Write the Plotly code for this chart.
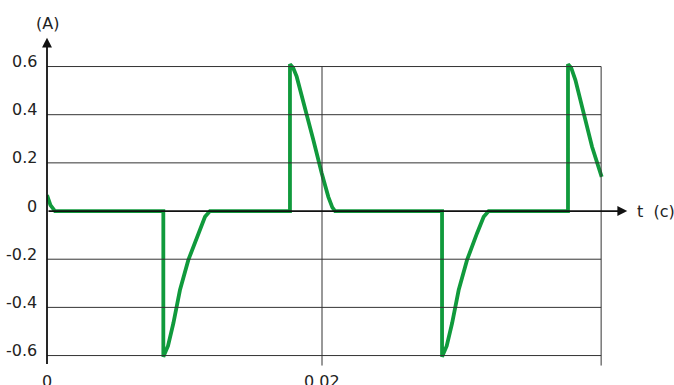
import plotly.graph_objects as go

# current waveform (t in s, i in A)
t = [0.0, 0.00025, 0.00058, 0.00846, 0.00846, 0.00880, 0.00919, 0.00967, 0.01028,
     0.01100, 0.01149, 0.01185, 0.01767, 0.01767, 0.01790, 0.01816, 0.01876,
     0.01937, 0.01998, 0.02046, 0.02075, 0.02095, 0.02873, 0.02873, 0.02907,
     0.02946, 0.02994, 0.03055, 0.03127, 0.03176, 0.03212, 0.03789, 0.03789,
     0.03812, 0.03843, 0.03903, 0.03964, 0.04034]
i = [0.066, 0.025, 0.0, 0.0, -0.605, -0.560, -0.466, -0.328, -0.203,
     -0.093, -0.024, 0.0, 0.0, 0.61, 0.595, 0.558, 0.433,
     0.295, 0.157, 0.059, 0.015, 0.0, 0.0, -0.605, -0.560,
     -0.466, -0.328, -0.203, -0.093, -0.024, 0.0, 0.0, 0.61,
     0.595, 0.544, 0.406, 0.267, 0.142]

y_grid = [0.6, 0.4, 0.2, -0.2, -0.4, -0.6]
y_labels = ["0.6", "0.4", "0.2", "0", "-0.2", "-0.4", "-0.6"]
y_label_vals = [0.6, 0.4, 0.2, 0.0, -0.2, -0.4, -0.6]
x_labels = ["0", "0.02"]
x_label_vals = [0.0, 0.02]

T_END = 0.0403
Y_BOTTOM = -0.6415
FONT = dict(family="DejaVu Sans, sans-serif", size=16, color="#222")

fig = go.Figure()

shapes = []
for y in y_grid:
    shapes.append(dict(type="line", x0=0, x1=T_END, y0=y, y1=y,
                       line=dict(color="#333", width=1)))
for x in [0.02, T_END]:
    shapes.append(dict(type="line", x0=x, x1=x, y0=0.6, y1=Y_BOTTOM,
                       line=dict(color="#333", width=1)))

fig.add_trace(go.Scatter(x=t, y=i, mode="lines",
                         line=dict(color="#109a3c", width=3.8),
                         hoverinfo="skip", showlegend=False))

annotations = []
# axis arrows
annotations.append(dict(x=0, y=0.72, ax=0, ay=Y_BOTTOM, xref="x", yref="y",
                        axref="x", ayref="y", showarrow=True, arrowhead=2,
                        arrowsize=1.1, arrowwidth=1.8, arrowcolor="#111", text=""))
annotations.append(dict(x=0.0422, y=0, ax=0, ay=0, xref="x", yref="y",
                        axref="x", ayref="y", showarrow=True, arrowhead=2,
                        arrowsize=1.1, arrowwidth=1.8, arrowcolor="#111", text=""))
for v, s in zip(y_label_vals, y_labels):
    annotations.append(dict(x=0, y=v, xref="x", yref="y", text=s, showarrow=False,
                            xanchor="right", xshift=-8, yshift=5, font=FONT))
for v, s in zip(x_label_vals, x_labels):
    annotations.append(dict(x=v, y=Y_BOTTOM, xref="x", yref="y", text=s,
                            showarrow=False, yanchor="top", yshift=-4, font=FONT))
annotations.append(dict(x=0, y=0.72, xref="x", yref="y", text="(A)", showarrow=False,
                        yanchor="bottom", yshift=3, font=FONT))
annotations.append(dict(x=0.0422, y=0, xref="x", yref="y", text="t  (c)",
                        showarrow=False, xanchor="left", xshift=8, font=FONT))

fig.update_layout(
    width=674, height=385,
    margin=dict(l=47, r=44, t=30, b=15),
    plot_bgcolor="white", paper_bgcolor="white",
    xaxis=dict(range=[0, 0.0424], visible=False, fixedrange=True),
    yaxis=dict(range=[-0.660, 0.7517], visible=False, fixedrange=True),
    shapes=shapes, annotations=annotations,
)

fig.write_html("out.html", config={"displayModeBar": False},
               post_script="document.body.style.margin='0';")
